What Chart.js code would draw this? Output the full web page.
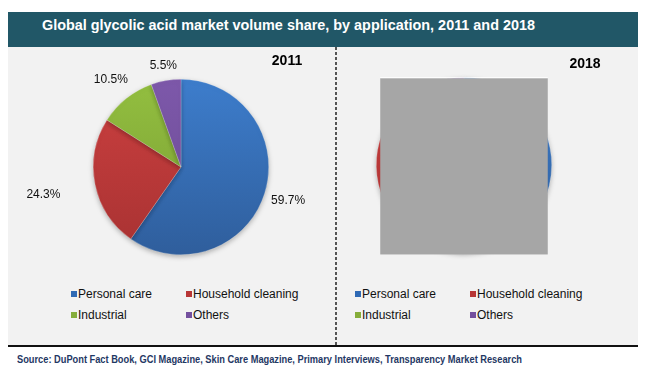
<!DOCTYPE html>
<html>
<head>
<meta charset="utf-8">
<script src="https://cdn.jsdelivr.net/npm/chart.js@4.4.1/dist/chart.umd.min.js"></script>
<style>
  html, body { margin: 0; padding: 0; background: #ffffff; }
  body { width: 650px; height: 374px; position: relative; overflow: hidden;
         font-family: "Liberation Sans", Arial, sans-serif; }
  #titlebar { position: absolute; left: 8px; top: 12px; width: 630px; height: 35px; background: #215767; }
  #title { position: absolute; left: 42px; top: 16px; color: #fff; font-weight: bold; font-size: 14px;
           white-space: nowrap; transform-origin: 0 0; line-height: 18px; }
  #panel { position: absolute; left: 8px; top: 47px; width: 630px; height: 298px; background: #f2f2f2; }
  #bottomline { position: absolute; left: 8px; top: 345px; width: 630px; height: 2px; background: #111; }
  #divider { position: absolute; left: 335px; top: 47px; width: 2px; height: 298px;
             background: repeating-linear-gradient(to bottom, #555 0 3px, transparent 3px 5px); }
  .cv { position: absolute; }
  .yr { position: absolute; font-weight: bold; font-size: 14px; color: #000; transform: translate(-50%, -50%); }
  .leg { position: absolute; font-size: 12px; color: #111; white-space: nowrap; line-height: 14px; }
  .leg i { position: absolute; left: 0; top: 4px; width: 6px; height: 6px; }
  .leg span { position: absolute; left: 7px; top: 0; }
  #source { position: absolute; left: 17px; top: 354px; color: #1f3864; font-weight: bold; font-size: 10px;
            white-space: nowrap; transform-origin: 0 0; line-height: 12px; }
</style>
</head>
<body>
<div id="titlebar"></div>
<div id="title">Global glycolic acid market volume share, by application, 2011 and 2018</div>
<div id="panel"></div>
<div id="divider"></div>
<div id="bottomline"></div>
<canvas id="c2011" class="cv" width="328" height="233" style="left:8px;top:47px;width:328px;height:233px"></canvas>
<canvas id="c2018" class="cv" width="302" height="233" style="left:336px;top:47px;width:302px;height:233px"></canvas>
<div class="yr" id="y1" style="left:287px;top:60px"></div>
<div class="yr" id="y2" style="left:585px;top:63px"></div>
<div id="legends"></div>
<div id="source">Source: DuPont Fact Book, GCI Magazine, Skin Care Magazine, Primary Interviews, Transparency Market Research</div>

<script>
// ---- DATA ----
const years = ["2011", "2018"];
const categories = ["Personal care", "Household cleaning", "Industrial", "Others"];
const share2011 = [59.7, 24.3, 10.5, 5.5];
const share2018 = [57.5, 25.0, 11.5, 6.0];   // hidden in the reference (estimated)

// ---- STYLES ----
const topColors = ["#3d7dcc", "#cc4040", "#93bf40", "#7d58aa"];
const botColors = ["#2f5e9c", "#a83232", "#789c32", "#6a4a92"];
const legendColors = ["#2f6ab5", "#b83636", "#86ad3a", "#74509e"];
const labelDist = [1.28, 1.6, 1.28, 1.17];

function gradFill(ctx) {
  const chart = ctx.chart;
  const area = chart.chartArea;
  if (!area) return topColors[ctx.dataIndex];
  const g = chart.ctx.createLinearGradient(0, area.top, 0, area.bottom);
  g.addColorStop(0, topColors[ctx.dataIndex]);
  g.addColorStop(1, botColors[ctx.dataIndex]);
  return g;
}

const shadowPlugin = {
  id: 'pieShadow',
  beforeDatasetsDraw(chart) {
    const c = chart.ctx;
    c.save();
    c.shadowColor = 'rgba(0,0,0,0.28)';
    c.shadowBlur = 5;
    c.shadowOffsetY = 2;
  },
  afterDatasetsDraw(chart) { chart.ctx.restore(); }
};

const labelPlugin = {
  id: 'pctLabels',
  afterDraw(chart, args, opts) {
    if (!opts.show) return;
    const c = chart.ctx;
    const meta = chart.getDatasetMeta(0);
    const data = chart.data.datasets[0].data;
    c.save();
    c.font = '12px "Liberation Sans", Arial, sans-serif';
    c.fillStyle = '#111';
    c.textAlign = 'center';
    c.textBaseline = 'middle';
    meta.data.forEach((arc, i) => {
      const mid = (arc.startAngle + arc.endAngle) / 2;
      const d = arc.outerRadius * labelDist[i];
      c.fillText(data[i].toFixed(1) + '%', arc.x + Math.cos(mid) * d, arc.y + Math.sin(mid) * d);
    });
    c.restore();
  }
};

const coverPlugin = {
  id: 'cover',
  afterDraw(chart, args, opts) {
    if (!opts.show) return;
    const arc = chart.getDatasetMeta(0).data[0];
    const c = chart.ctx;
    const r = arc.outerRadius;
    c.save();
    c.fillStyle = '#a6a6a6';
    c.fillRect(arc.x - r * 0.955, arc.y - r * 0.99, r * 1.91, r * 2.01);
    c.fillStyle = '#ffffff';
    c.fillRect(arc.x - r * 0.955, arc.y - r * 0.99 - 1, r * 1.91, 1);
    c.restore();
  }
};

function makePie(id, values, pad, showLabels, cover) {
  return new Chart(document.getElementById(id), {
    type: 'pie',
    data: {
      labels: categories,
      datasets: [{ data: values, backgroundColor: gradFill, borderWidth: 0.6, borderColor: 'rgba(255,255,255,0.35)' }]
    },
    options: {
      responsive: false,
      animation: false,
      devicePixelRatio: 1,
      layout: { padding: pad },
      plugins: {
        legend: { display: false },
        tooltip: { enabled: false },
        pctLabels: { show: showLabels },
        cover: { show: cover }
      }
    },
    plugins: [shadowPlugin, labelPlugin, coverPlugin]
  });
}

makePie('c2011', share2011, { left: 85, right: 67, top: 32, bottom: 25 }, true, false);
makePie('c2018', share2018, { left: 40, right: 86, top: 30, bottom: 27 }, false, true);

document.getElementById('y1').textContent = years[0];
document.getElementById('y2').textContent = years[1];

// Legends built from categories
const legendOrigins = [[71, 294], [355, 294]];
const colX = [0, 115];
const rowY = [0, 21];
const legRoot = document.getElementById('legends');
legendOrigins.forEach(o => {
  categories.forEach((name, i) => {
    const d = document.createElement('div');
    d.className = 'leg';
    d.style.left = (o[0] + colX[i % 2]) + 'px';
    d.style.top = (o[1] - 7 + rowY[Math.floor(i / 2)]) + 'px';
    const m = document.createElement('i');
    m.style.background = legendColors[i];
    const s = document.createElement('span');
    s.textContent = name;
    d.appendChild(m); d.appendChild(s);
    legRoot.appendChild(d);
  });
});

function fitWidth(el, w) {
  const cur = el.getBoundingClientRect().width;
  if (cur > 0) el.style.transform = 'scaleX(' + (w / cur) + ')';
}
fitWidth(document.getElementById('title'), 493);
fitWidth(document.getElementById('source'), 505);
</script>
</body>
</html>
